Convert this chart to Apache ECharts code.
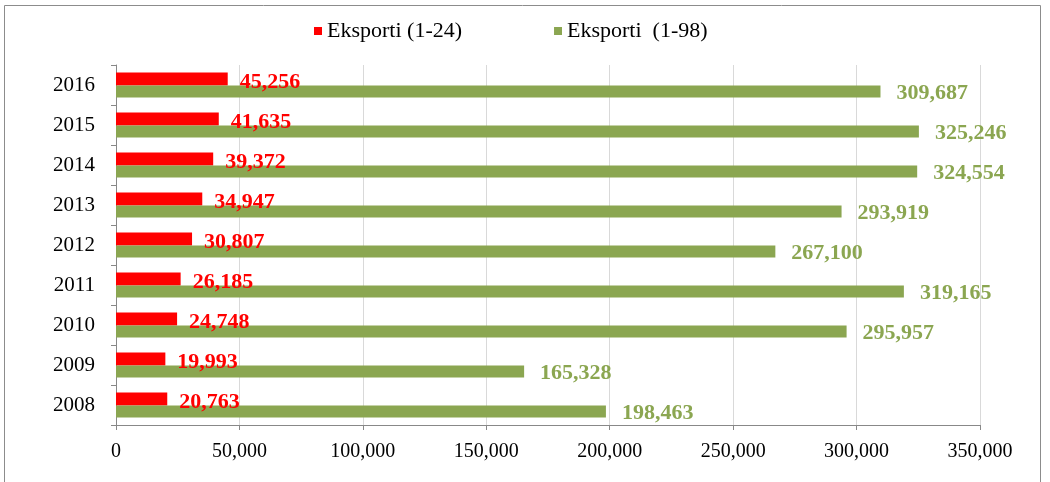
<!DOCTYPE html>
<html><head><meta charset="utf-8">
<script src="https://cdn.jsdelivr.net/npm/echarts@6/dist/echarts.min.js"></script>
<style>html,body{margin:0;padding:0;background:#fff}#c{width:1050px;height:482px}</style>
</head><body><div id="c"></div>
<script>
const years = ['2008','2009','2010','2011','2012','2013','2014','2015','2016'];
const seriesNames = ['Eksporti (1-24)', 'Eksporti  (1-98)'];
const exp124 = [20763, 19993, 24748, 26185, 30807, 34947, 39372, 41635, 45256];
const exp198 = [198463, 165328, 295957, 319165, 267100, 293919, 324554, 325246, 309687];
const xTicks = {min: 0, max: 350000, interval: 50000};

const fmt = v => v.toLocaleString('en-US');
const font = 'Liberation Serif';
const chart = echarts.init(document.getElementById('c'));
chart.setOption({
  animation: false,
  textStyle: {fontFamily: font},
  graphic: [{type: 'rect', shape: {x: 4.5, y: 5.5, width: 1036, height: 480}, style: {fill: 'none', stroke: '#8c8c8c', lineWidth: 1}}],
  legend: {
    data: seriesNames, top: 20, left: 314, padding: 0, itemWidth: 8, itemHeight: 8, itemGap: 92, icon: 'rect',
    textStyle: {fontFamily: font, fontSize: 22, color: '#000'}
  },
  grid: {left: 116, right: 70, top: 65, bottom: 57, containLabel: false},
  xAxis: {
    type: 'value', min: xTicks.min, max: xTicks.max, interval: xTicks.interval,
    axisLine: {show: true, lineStyle: {color: '#888'}},
    axisTick: {show: true, length: 5, lineStyle: {color: '#888'}},
    splitLine: {lineStyle: {color: '#d9d9d9'}},
    axisLabel: {fontFamily: font, fontSize: 20, color: '#000', margin: 17, formatter: fmt}
  },
  yAxis: {
    type: 'category', data: years,
    axisLine: {show: true, lineStyle: {color: '#888'}},
    axisTick: {show: true, length: 5, lineStyle: {color: '#888'}},
    axisLabel: {fontFamily: font, fontSize: 21, color: '#000', margin: 21}
  },
  series: [
    {name: seriesNames[0], type: 'bar', data: exp124, barWidth: 13, barGap: '0%',
     itemStyle: {color: '#ff0000'},
     label: {show: true, position: 'right', distance: 12, formatter: p => fmt(p.value), fontFamily: font, fontSize: 22, fontWeight: 'bold', color: '#ff0000', offset: [0, 3]}},
    {name: seriesNames[1], type: 'bar', data: exp198, barWidth: 12, barGap: '0%',
     itemStyle: {color: '#8ba651'},
     label: {show: true, position: 'right', distance: 16, formatter: p => fmt(p.value), fontFamily: font, fontSize: 22, fontWeight: 'bold', color: '#8ba651', offset: [0, 2]}}
  ]
});
</script></body></html>
